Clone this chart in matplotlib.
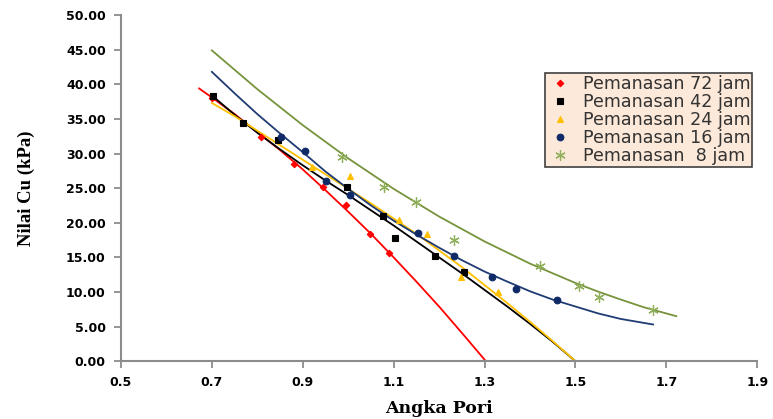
import matplotlib
matplotlib.use("Agg")
import matplotlib.pyplot as plt
from matplotlib.ticker import FormatStrFormatter

# ---- data ----
series_names = ["Pemanasan 72 jam", "Pemanasan 42 jam", "Pemanasan 24 jam",
                "Pemanasan 16 jam", "Pemanasan  8 jam"]

# measured points
x72 = [0.700, 0.809, 0.881, 0.945, 0.996, 1.047, 1.089]
y72 = [38.0, 32.4, 28.5, 25.1, 22.6, 18.4, 15.7]
x42 = [0.703, 0.769, 0.846, 0.998, 1.076, 1.104, 1.192, 1.254]
y42 = [38.3, 34.4, 31.9, 25.1, 21.0, 17.8, 15.2, 12.9]
x24 = [0.921, 1.003, 1.111, 1.173, 1.248, 1.329]
y24 = [28.0, 26.7, 20.4, 18.4, 12.1, 10.0]
x16 = [0.853, 0.906, 0.952, 1.005, 1.153, 1.232, 1.316, 1.369, 1.459]
y16 = [32.4, 30.3, 26.0, 24.0, 18.5, 15.2, 12.1, 10.4, 8.8]
x8 = [0.987, 1.078, 1.150, 1.232, 1.422, 1.508, 1.552, 1.671]
y8 = [29.5, 25.1, 23.0, 17.5, 13.7, 10.8, 9.2, 7.4]

# trend lines
tx72 = [0.672, 0.70, 0.75, 0.80, 0.85, 0.90, 0.95, 1.00, 1.05, 1.10, 1.15, 1.20, 1.25, 1.303]
ty72 = [39.4, 38.1, 35.7, 33.1, 30.5, 27.7, 24.7, 21.6, 18.4, 15.0, 11.5, 7.9, 4.1, 0.0]

tx42 = [0.70, 0.75, 0.80, 0.85, 0.90, 0.95, 1.00, 1.05, 1.10, 1.15, 1.20, 1.25, 1.30, 1.35, 1.40, 1.45, 1.50]
ty42 = [38.4, 35.6, 33.0, 30.6, 28.3, 26.1, 24.0, 21.8, 19.6, 17.3, 15.0, 12.7, 10.3, 7.9, 5.4, 2.8, 0.0]

tx24 = [0.70, 0.75, 0.80, 0.85, 0.90, 0.95, 1.00, 1.05, 1.10, 1.15, 1.20, 1.25, 1.30, 1.35, 1.40, 1.45, 1.50]
ty24 = [37.3, 35.4, 33.3, 31.2, 29.1, 27.0, 24.9, 22.8, 20.6, 18.4, 16.0, 13.6, 11.0, 8.4, 5.7, 2.9, 0.0]

tx16 = [0.70, 0.75, 0.80, 0.85, 0.90, 0.95, 1.00, 1.05, 1.10, 1.15, 1.20, 1.25, 1.30, 1.35, 1.40, 1.45, 1.50, 1.55, 1.60, 1.671]
ty16 = [41.8, 38.7, 35.7, 32.9, 30.2, 27.4, 24.9, 22.5, 20.3, 18.3, 16.4, 14.6, 12.95, 11.5, 10.1, 8.9, 7.9, 6.9, 6.1, 5.3]

tx8 = [0.70, 0.75, 0.80, 0.85, 0.90, 0.95, 1.00, 1.05, 1.10, 1.15, 1.20, 1.25, 1.30, 1.35, 1.40, 1.45, 1.50, 1.55, 1.60, 1.65, 1.722]
ty8 = [44.9, 42.1, 39.3, 36.7, 34.1, 31.7, 29.3, 27.1, 24.9, 22.9, 20.9, 19.1, 17.3, 15.7, 14.1, 12.7, 11.3, 10.05, 8.9, 7.8, 6.5]

xticks = [0.5, 0.7, 0.9, 1.1, 1.3, 1.5, 1.7, 1.9]
yticks = [0, 5, 10, 15, 20, 25, 30, 35, 40, 45, 50]

# ---- figure ----
fig = plt.figure(figsize=(7.73, 4.19), dpi=100)
ax = fig.add_axes([0.1565, 0.138, 0.823, 0.826])

styles = [
    dict(pts=(x72, y72), tr=(tx72, ty72), lc="#FF0000", mc="#FF0000", m="D", ms=3.3, mew=0.8),
    dict(pts=(x42, y42), tr=(tx42, ty42), lc="#000000", mc="#000000", m="s", ms=4.3, mew=0.8),
    dict(pts=(x24, y24), tr=(tx24, ty24), lc="#FFC000", mc="#FFC000", m="^", ms=4.5, mew=0.8),
    dict(pts=(x16, y16), tr=(tx16, ty16), lc="#1F3B73", mc="#0F2A66", m="o", ms=4.8, mew=0.8),
    dict(pts=(x8, y8), tr=(tx8, ty8), lc="#77933C", mc="#8FAF5A", m=(6, 2, 0), ms=7.5, mew=0.9),
]

handles = []
for name, s in zip(series_names, styles):
    ax.plot(s["tr"][0], s["tr"][1], color=s["lc"], lw=1.3, zorder=2,
            solid_joinstyle="round")
    h, = ax.plot(s["pts"][0], s["pts"][1], ls="none", marker=s["m"], ms=s["ms"],
                 color=s["mc"], mec=s["mc"], mew=s["mew"], zorder=3, label=name)
    handles.append(h)

ax.set_xlim(0.5, 1.9)
ax.set_ylim(0, 50)
ax.set_xticks(xticks)
ax.set_yticks(yticks)
ax.yaxis.set_major_formatter(FormatStrFormatter("%.2f"))
ax.xaxis.set_major_formatter(FormatStrFormatter("%.1f"))

for sp in ["top", "right"]:
    ax.spines[sp].set_visible(False)
for sp in ["left", "bottom"]:
    ax.spines[sp].set_color("#8C8C8C")
    ax.spines[sp].set_linewidth(1.5)

ax.tick_params(axis="both", direction="out", length=5, width=1.3, color="#8C8C8C",
               labelsize=9, pad=6)
for lab in ax.get_xticklabels() + ax.get_yticklabels():
    lab.set_fontweight("bold")
    lab.set_family("DejaVu Sans")

ax.set_xlabel("Angka Pori", family="DejaVu Serif", fontweight="bold", fontsize=12.5,
              va="top")
ax.xaxis.set_label_coords(0.5, -0.113)
ax.set_ylabel("Nilai Cu (kPa)", family="Liberation Serif", fontweight="bold", fontsize=13.5)
ax.yaxis.set_label_coords(-0.135, 0.5)

leg = ax.legend(handles=handles, loc="upper left", bbox_to_anchor=(0.667, 0.832),
                frameon=True, fancybox=False, facecolor="#FDE9D9", edgecolor="#404040",
                framealpha=1.0, fontsize=12.6, handlelength=1.5, handletextpad=0.55,
                borderpad=0.1, labelspacing=0.0, borderaxespad=0)
leg.get_frame().set_linewidth(1.2)
for t in leg.get_texts():
    t.set_color("#333333")
    t.set_family("DejaVu Sans")

fig.savefig("out.png", dpi=100, facecolor="white")
